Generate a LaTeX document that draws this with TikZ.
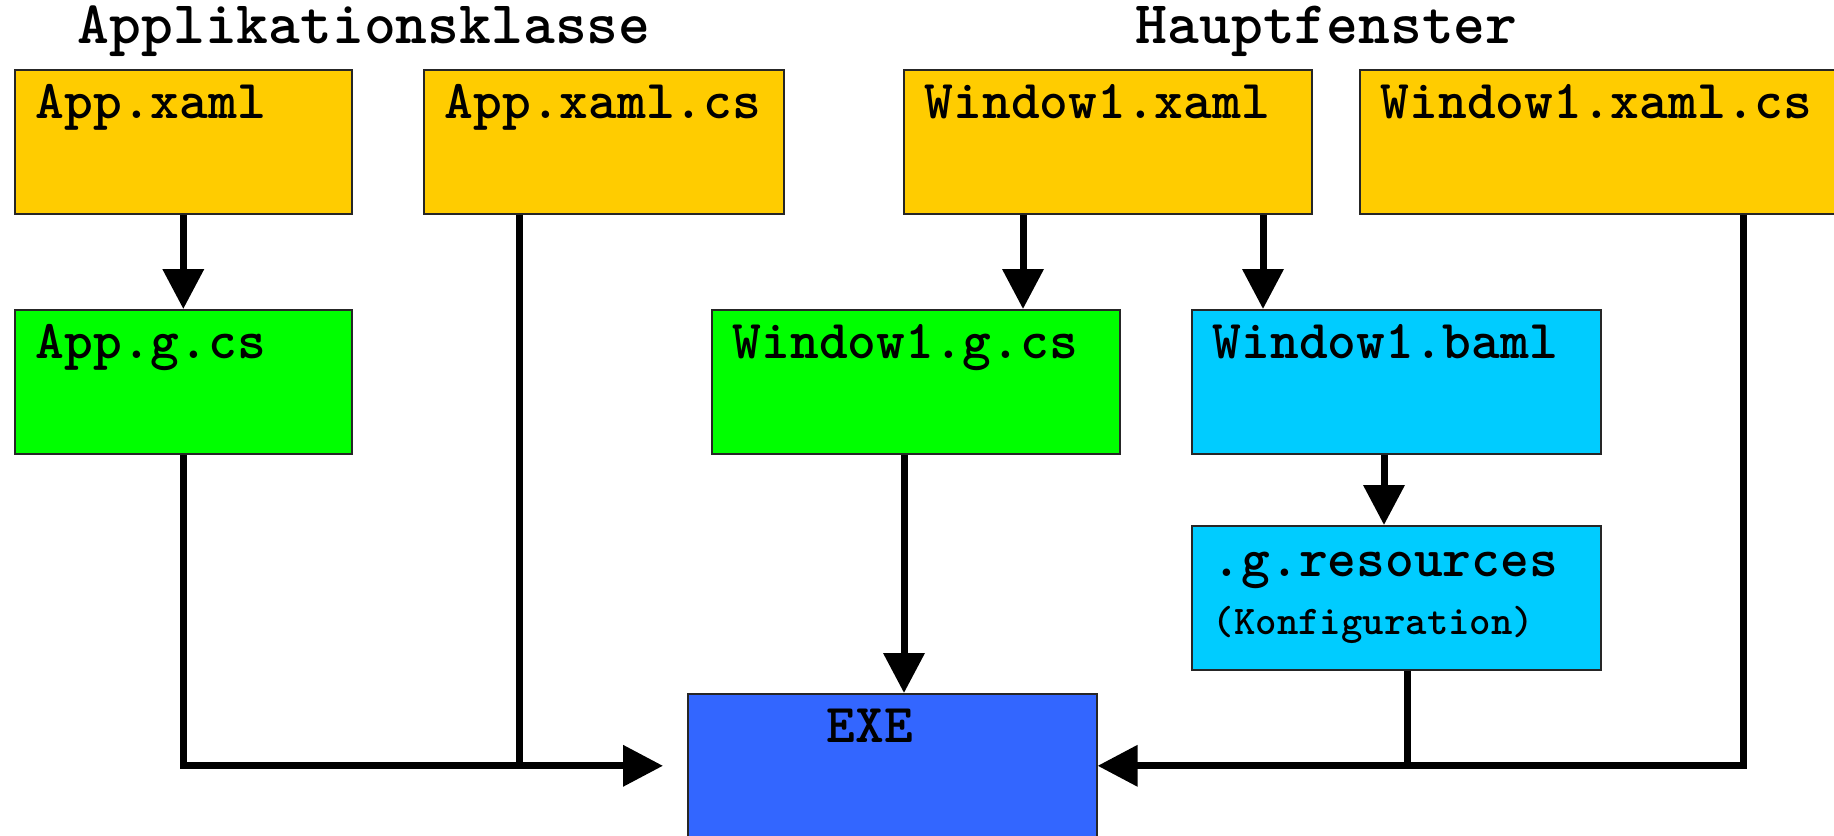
\documentclass[tikz,border=0pt]{standalone}
\usepackage{fontspec}
\usetikzlibrary{arrows.meta}

\definecolor{srcorange}{HTML}{FFCC00}
\definecolor{gengreen}{HTML}{00FF00}
\definecolor{rescyan}{HTML}{00CCFF}
\definecolor{exeblue}{HTML}{3366FF}

\tikzset{
  file/.style={draw=black!85, line width=0.4pt, anchor=north west,
    inner xsep=5.25pt, inner ysep=0pt, text width=#1, align=left,
    text height=12.25pt, text depth=23.75pt,
    font=\ttfamily\bfseries\fontsize{13.7}{16}\selectfont},
  flow/.style={line width=1.75pt, -{Triangle[length=10pt,width=10pt]}},
  feed/.style={line width=1.75pt},
  heading/.style={anchor=base west, inner sep=0pt,
    font=\ttfamily\bfseries\fontsize{15.15}{18}\selectfont}
}

\begin{document}
\begin{tikzpicture}[x=0.25pt, y=-0.25pt]
\useasboundingbox (0,0) rectangle (1834,836);

% Ueberschriften
\node[heading] (tapp) at (77,43) {Applikationsklasse};
\node[heading] (twin) at (1135,43) {Hauptfenster};

% Quelldateien
\node[file=73.75pt, fill=srcorange] (appxaml) at (14,69) {App.xaml};
\node[file=79.5pt, fill=srcorange] (appxamlcs) at (423,69) {App.xaml.cs};
\node[file=91.5pt, fill=srcorange] (winxaml) at (903,69) {Window1.xaml};
\node[file=112.25pt, fill=srcorange] (winxamlcs) at (1359,69) {Window1.xaml.cs};

% generierte Dateien
\node[file=73.75pt, fill=gengreen] (appgcs) at (14,309) {App.g.cs};
\node[file=91.5pt, fill=gengreen] (wingcs) at (711,309) {Window1.g.cs};
\node[file=91.75pt, fill=rescyan] (winbaml) at (1191,309) {Window1.baml};
\node[file=91.75pt, fill=rescyan, text height=12.75pt, text depth=23.25pt] (gres) at (1191,525)
  {.g.resources\\[-1.5pt]{\fontsize{10.2}{11}\selectfont(Konfiguration)}};
\node[file=91.75pt, fill=exeblue] (exe) at (687,693) {\hspace*{29.5pt}EXE};

\coordinate (exein) at ([xshift=-6pt]exe.west);

% Verbindungen
\draw[flow] (appxaml) -- (appgcs);
\draw[flow] (appgcs) |- (exein);
\draw[feed] ([xshift=24pt]appxamlcs.south west) -- ([xshift=24pt]appxamlcs.south west |- exein);
\draw[flow] ([xshift=30pt]winxaml.south west) -- ([xshift=30pt]winxaml.south west |- wingcs.north);
\draw[flow] ([xshift=90pt]winxaml.south west) -- ([xshift=90pt]winxaml.south west |- winbaml.north);
\draw[flow] ([xshift=48.25pt]wingcs.south west) -- ([xshift=48.25pt]wingcs.south west |- exe.north);
\draw[flow] ([xshift=48.25pt]winbaml.south west) -- ([xshift=48.25pt]winbaml.south west |- gres.north);
\draw[feed] ([xshift=54pt]gres.south west) -- ([xshift=54pt]gres.south west |- exe.east);
\draw[flow] ([xshift=96pt]winxamlcs.south west) |- (exe.east);
\end{tikzpicture}
\end{document}
